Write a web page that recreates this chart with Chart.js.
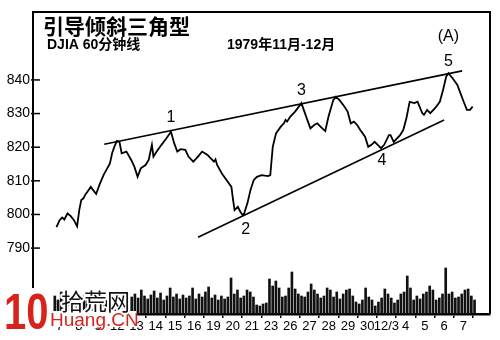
<!DOCTYPE html>
<html><head><meta charset="utf-8">
<script src="https://cdn.jsdelivr.net/npm/chart.js@4/dist/chart.umd.min.js"></script>
<style>html,body{margin:0;padding:0;background:#fff}#wrap{width:500px;height:340px;position:relative}</style>
</head><body><div id="wrap"><canvas id="c" width="500" height="340"></canvas></div>
<script>
// ---- data ----
const dayLabels = ['7','8','9','12','13','14','15','16','19','20','21','23','26','27','28','29','30','12/3','4','5','6','7'];
const yTicks = [790, 800, 810, 820, 830, 840];
// time position in trading-day units (0 = Nov 7) and DJIA value
const priceT = [-0.164,0,0.134,0.248,0.412,0.581,0.745,0.909,1.028,1.127,1.241,1.326,1.455,1.624,1.738,1.902,2.071,2.284,2.448,2.617,2.731,2.845,2.979,3.113,3.227,3.476,3.724,3.888,4.057,4.220,4.469,4.633,4.801,4.881,5.050,5.298,5.546,5.794,5.958,6.122,6.291,6.539,6.703,6.951,7.115,7.413,7.696,7.860,8.029,8.108,8.193,8.441,8.689,8.937,9.022,9.101,9.270,9.399,9.518,9.598,9.767,9.930,10.094,10.263,10.511,10.839,10.958,11.087,11.256,11.504,11.668,11.753,11.832,12.001,12.249,12.577,12.825,13.044,13.242,13.406,13.570,13.818,13.987,14.235,14.364,14.563,14.811,14.980,15.144,15.308,15.477,15.640,15.889,16.053,16.221,16.385,16.549,16.718,16.882,17.130,17.214,17.378,17.711,17.875,18.039,18.208,18.456,18.620,18.868,18.952,19.116,19.280,19.528,19.777,19.945,20.109,20.223,20.442,20.690,20.854,21.018,21.186,21.350,21.485];
const priceV = [796.2,798.3,799.1,798.5,800.3,799.5,798.3,796.5,801.5,804.3,804.8,805.8,806.8,808.2,807.3,806.1,808.8,811.7,813.4,815.2,818.2,820.1,821.9,821.6,818.2,818.7,816.2,814.2,811.2,813.7,814.7,816.2,820.7,817.2,818.7,820.7,822.6,824.6,821.2,818.7,819.4,819.2,817.2,815.7,816.7,818.7,817.7,816.7,815.7,816.4,814.7,812.2,810.2,808.2,804.3,801.3,802.3,800.8,799.8,800.3,803.3,807.3,810.2,811.2,811.7,811.4,811.7,820.1,824.1,826.1,827.1,828.1,827.6,829.1,830.6,833.1,829.1,825.6,826.6,827.1,826.1,824.8,829.1,834.0,835.0,834.0,832.1,830.6,827.1,827.6,826.6,825.1,823.1,820.1,820.7,821.6,820.7,819.7,820.7,823.6,823.6,821.6,823.6,825.1,828.6,833.5,833.1,833.5,830.1,829.6,831.1,830.1,831.6,833.5,837.0,841.0,842.0,840.5,838.5,836.0,833.5,831.1,831.1,832.1];
// trend lines (two ends each)
const upperT = [2.32, 20.94], upperV = [820.9, 842.7];
const lowerT = [7.20, 20.00], lowerV = [793.2, 828.1];
// wave labels anchored to turning points
const waveNames = ['1','2','3','4','5'];
const waveT = [5.794, 9.518, 12.577, 16.718, 20.223];
const waveV = [824.6, 799.8, 833.1, 819.7, 842.0];
const waveTag = '(A)';
// hourly volume (relative units), six bars per day starting at day -0.25
const volStart = -0.25, volPerDay = 6;
const volume = [
18,14,22,16,20,15, 16,20,14,18,22,17, 15,19,21,16,14,20, 18,15,22,17,19,16,
17,20,16,24,18,15, 19,23,16,21,14,18, 26,17,20,15,19,16, 18,26,15,20,17,22,
27,16,19,14,18,15, 17,36,20,24,16,18, 24,22,17,9,8,10, 11,35,28,33,26,17,
18,26,42,25,20,18, 17,22,30,24,20,16, 18,26,24,17,22,15, 20,24,25,18,12,10,
14,26,17,14,8,12, 16,25,20,16,11,14, 20,22,38,26,14,18, 15,20,22,28,24,14,
16,20,46,20,22,16, 17,20,24,25,18,14];
const titleText = '引导倾斜三角型';
const subText = 'DJIA 60分钟线';
const dateText = '1979年11月-12月';
const markText = '拾荒网', markUrl = 'Huang.CN', markLogo = '10';

// ---- chart ----
const pts = (ts, vs) => ts.map((t, i) => ({x: t, y: vs[i]}));
const volPts = volume.map((v, i) => ({x: volStart + i / volPerDay, y: v}));

const framePlugin = {
  id: 'frame',
  afterDraw(chart) {
    const {ctx, chartArea: a, scales} = chart;
    ctx.save();
    ctx.strokeStyle = '#000';
    ctx.lineWidth = 2;
    ctx.beginPath();
    ctx.moveTo(a.left, a.bottom); ctx.lineTo(a.left, a.top); ctx.lineTo(a.right, a.top); ctx.lineTo(a.right, a.bottom);
    ctx.stroke();
    // inward y ticks
    ctx.lineWidth = 1.5;
    yTicks.forEach(v => {
      const y = scales.y.getPixelForValue(v);
      ctx.beginPath(); ctx.moveTo(a.left - 2, y); ctx.lineTo(a.left + 7, y); ctx.stroke();
    });
    // titles
    ctx.fillStyle = '#000';
    ctx.textBaseline = 'middle';
    ctx.textAlign = 'left';
    ctx.font = 'bold 21px "Noto Sans CJK SC"';
    ctx.fillText(titleText, 43, 26);
    ctx.font = 'bold 14px "Liberation Sans", "Noto Sans CJK SC"';
    ctx.fillText(subText, 47, 45);
    ctx.fillText(dateText, 227, 45);
    // wave labels
    ctx.textAlign = 'center';
    ctx.font = '16px "Liberation Sans"';
    const offs = [[0,-14],[3,14],[0,-13],[1,12],[0,-12]];
    waveNames.forEach((n, i) => {
      const x = scales.x.getPixelForValue(waveT[i]) + offs[i][0];
      const y = scales.y.getPixelForValue(waveV[i]) + offs[i][1];
      ctx.fillText(n, x, y);
    });
    ctx.fillText(waveTag, scales.x.getPixelForValue(waveT[4]), scales.y.getPixelForValue(waveV[4]) - 37);
    // watermark
    ctx.fillStyle = '#fff';
    ctx.fillRect(48, 311, 88, 16);
    ctx.fillRect(2, 288, 48, 42);
    ctx.fillStyle = '#d8231d';
    ctx.textAlign = 'left';
    ctx.textBaseline = 'alphabetic';
    ctx.save();
    ctx.translate(4, 329);
    ctx.scale(0.8, 1);
    ctx.font = 'bold 50px "Liberation Sans"';
    ctx.fillText(markLogo, 0, 0);
    ctx.restore();
    ctx.font = '19px "Liberation Sans"';
    ctx.fillText(markUrl, 50, 326);
    ctx.font = '23px "Noto Sans CJK SC"';
    ctx.strokeStyle = '#fff';
    ctx.lineWidth = 4;
    ctx.lineJoin = 'round';
    ctx.strokeText(markText, 61, 310);
    ctx.fillStyle = '#111';
    ctx.fillText(markText, 61, 310);
    ctx.restore();
  }
};

new Chart(document.getElementById('c'), {
  type: 'line',
  data: {
    datasets: [
      {type: 'bar', data: volPts, yAxisID: 'yv', backgroundColor: '#111', barThickness: 2, order: 5},
      {data: pts(priceT, priceV), borderColor: '#000', borderWidth: 1.8, pointRadius: 0, tension: 0, yAxisID: 'y', order: 1},
      {data: pts(upperT, upperV), borderColor: '#000', borderWidth: 1.6, pointRadius: 0, yAxisID: 'y', order: 2},
      {data: pts(lowerT, lowerV), borderColor: '#000', borderWidth: 1.6, pointRadius: 0, yAxisID: 'y', order: 3}
    ]
  },
  options: {
    responsive: false, animation: false, devicePixelRatio: 1,
    layout: {padding: {top: 12, right: 10, left: 0, bottom: 0}},
    plugins: {legend: {display: false}, tooltip: {enabled: false}},
    scales: {
      x: {
        type: 'linear', min: -0.844, max: 21.847,
        afterBuildTicks: s => { s.ticks = dayLabels.map((_, i) => ({value: i})); },
        afterFit: s => { s.height = 26; },
        ticks: {autoSkip: false, maxRotation: 0, color: '#000', padding: 1,
                font: {family: '"Liberation Sans"', size: 13},
                callback: v => dayLabels[v]},
        grid: {drawOnChartArea: false, tickLength: 4, color: '#000', lineWidth: 1.5},
        border: {color: '#000', width: 2.5}
      },
      y: {
        min: 770.4, max: 860.2,
        afterBuildTicks: s => { s.ticks = yTicks.map(v => ({value: v})); },
        afterFit: s => { s.width = 33; },
        ticks: {color: '#000', padding: 3, font: {family: '"Liberation Sans"', size: 14}},
        grid: {drawOnChartArea: false, drawTicks: false},
        border: {color: '#000', width: 2}
      },
      yv: {display: false, min: 0, max: 302, position: 'right'}
    }
  },
  plugins: [framePlugin]
});
</script></body></html>
